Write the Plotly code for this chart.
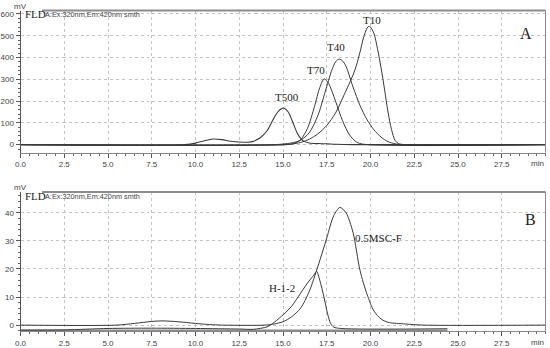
import plotly.graph_objects as go

# ---------------- data ----------------
# Panel A
t_T10 = [0, 15.0, 15.5, 16.0, 16.5, 17.0, 17.5, 18.0, 18.5, 19.0, 19.2, 19.4, 19.6, 19.8, 19.9, 20.0, 20.2, 20.4, 20.6, 20.8, 21.0, 21.2, 21.4, 21.6, 22.0, 30]
v_T10 = [0, 0, 3, 10, 25, 50, 88, 145, 230, 320, 365, 425, 490, 535, 543, 540, 510, 440, 355, 255, 150, 70, 20, 5, 0, 0]

t_T40 = [0, 14.5, 15.0, 15.5, 16.0, 16.5, 17.0, 17.4, 17.8, 18.0, 18.2, 18.4, 18.6, 19.0, 19.4, 19.8, 20.2, 20.6, 21.0, 21.4, 21.8, 30]
v_T40 = [0, 0, 3, 8, 20, 55, 135, 240, 345, 380, 393, 385, 360, 265, 180, 115, 68, 35, 14, 4, 0, 0]

t_T70 = [0, 15.2, 15.6, 16.0, 16.4, 16.8, 17.1, 17.35, 17.6, 18.0, 18.4, 18.8, 19.2, 19.6, 30]
v_T70 = [0, 0, 5, 22, 75, 175, 262, 302, 282, 200, 110, 45, 12, 2, 0]

t_T500 = [0, 9.4, 10.0, 10.5, 11.0, 11.5, 12.0, 12.5, 13.0, 13.3, 13.7, 14.1, 14.4, 14.7, 14.9, 15.05, 15.3, 15.55, 15.8, 16.0, 16.2, 16.5, 17.0, 17.5, 18.0, 19.0, 30]
v_T500 = [0, 0, 7, 18, 26, 23, 16, 12, 11, 15, 32, 65, 110, 150, 165, 168, 150, 105, 55, 30, 15, 8, 5, 4, 2, 0, 0]

# Panel B
t_MSC = [0, 5.5, 6.5, 7.5, 8.1, 9.0, 10.0, 10.8, 11.5, 14.0, 14.5, 15.0, 15.5, 16.0, 16.5, 17.0, 17.5, 17.9, 18.25, 18.6, 19.0, 19.4, 19.8, 20.2, 20.6, 21.0, 22.0, 23.0, 30]
v_MSC = [0, 0, 0.6, 1.3, 1.5, 1.2, 0.6, 0.2, 0, 0, 0.4, 1.2, 3, 6, 12, 21, 31, 39, 41.9, 40, 33, 19.5, 11, 5, 2.2, 1, 0.4, 0, 0]

t_H12 = [0, 2.5, 5.0, 7.5, 10.0, 12.5, 13.3, 14.1, 14.5, 15.05, 15.5, 16.0, 16.4, 16.76, 16.92, 17.1, 17.34, 17.55, 17.72, 17.9, 18.3, 24.4]
v_H12 = [-1.8, -1.7, -1.2, -1.1, -1.2, -1.4, -1.5, -0.6, 1.0, 3.9, 6.8, 11.3, 15, 17.8, 19.2, 16, 10, 4, 0.6, -0.7, -1.2, -1.3]

t_baseB = [0, 24.4]
v_baseB = [-1.9, -1.9]

x_ticks = [0, 2.5, 5, 7.5, 10, 12.5, 15, 17.5, 20, 22.5, 25, 27.5]
x_ticktext = ["0.0", "2.5", "5.0", "7.5", "10.0", "12.5", "15.0", "17.5", "20.0", "22.5", "25.0", "27.5"]
yA_ticks = [0, 100, 200, 300, 400, 500, 600]
yB_ticks = [0, 10, 20, 30, 40]

# ---------------- figure ----------------
W, H = 550, 348
def px(x):
    return x / W
def py(y):
    return 1 - y / H

LINE = "#3a3a3a"
fig = go.Figure()

def add(t, v, xa, ya, color=LINE, width=1.0):
    fig.add_trace(go.Scatter(x=t, y=v, xaxis=xa, yaxis=ya, mode="lines",
                             line=dict(color=color, width=width, shape="spline", smoothing=0.8),
                             showlegend=False, hoverinfo="skip"))

add(t_T500, v_T500, "x", "y", width=1.1)
add(t_T70, v_T70, "x", "y")
add(t_T40, v_T40, "x", "y")
add(t_T10, v_T10, "x", "y")

add(t_baseB, v_baseB, "x2", "y2", color="#8a8a8a", width=2)
add(t_H12, v_H12, "x2", "y2")
add(t_MSC, v_MSC, "x2", "y2")

xdom = [px(20.5), px(545.5)]
tickfont = dict(family="Liberation Sans, Arial", size=8, color="#444")
common_x = dict(range=[0, 30], tickvals=x_ticks, ticktext=x_ticktext, showgrid=True,
                gridcolor="#c4c4c4", griddash="dot", gridwidth=1, automargin=False,
                showline=True, linecolor="#888", linewidth=1, ticks="outside",
                ticklen=4, tickcolor="#555", tickfont=tickfont, zeroline=False,
                minor=dict(dtick=0.5, ticks="outside", ticklen=2, tickcolor="#666", showgrid=False),
                fixedrange=True)
common_y = dict(showgrid=True, gridcolor="#c4c4c4", griddash="dot", gridwidth=1, automargin=False,
                showline=True, linecolor="#555", linewidth=1, ticks="outside",
                ticklen=4, tickcolor="#555", tickfont=tickfont, zeroline=False, fixedrange=True)

fig.update_layout(
    width=W, height=H, autosize=False,
    margin=dict(l=0, r=0, t=0, b=0, pad=0),
    paper_bgcolor="white", plot_bgcolor="white",
    xaxis=dict(domain=xdom, anchor="y", **common_x),
    yaxis=dict(domain=[py(152.5), py(10.5)], anchor="x", range=[-36, 616], tickvals=yA_ticks,
               minor=dict(dtick=20, ticks="outside", ticklen=2, tickcolor="#666", showgrid=False),
               **common_y),
    xaxis2=dict(domain=xdom, anchor="y2", **common_x),
    yaxis2=dict(domain=[py(331), py(192)], anchor="x2", range=[-2.1, 47.4], tickvals=yB_ticks,
                minor=dict(dtick=2, ticks="outside", ticklen=2, tickcolor="#666", showgrid=False),
                **common_y),
)

shapes = []
for ytop, ybot in [(10.5, 152.5), (192, 331)]:
    shapes.append(dict(type="line", xref="paper", yref="paper", x0=px(42), x1=px(545.5),
                       y0=py(ytop), y1=py(ytop), line=dict(color="#8c8c8c", width=2)))
    shapes.append(dict(type="line", xref="paper", yref="paper", x0=px(545.5), x1=px(545.5),
                       y0=py(ytop), y1=py(ybot), line=dict(color="#8c8c8c", width=1)))
fig.update_layout(shapes=shapes)

serif = "Liberation Serif, Times New Roman, serif"
sans = "Liberation Sans, Arial, sans-serif"
ann = []
def a(text, x, y, xref, yref, size, family, color="#222", xanchor="center", yanchor="middle"):
    ann.append(dict(text=text, x=x, y=y, xref=xref, yref=yref, showarrow=False,
                    font=dict(size=size, family=family, color=color),
                    xanchor=xanchor, yanchor=yanchor))

# peak labels
a("T10", 20.1, 571, "x", "y", 11, serif)
a("T40", 18.0, 447, "x", "y", 11, serif)
a("T70", 16.86, 344, "x", "y", 11, serif)
a("T500", 15.2, 220, "x", "y", 11, serif)
a("A", 28.9, 510, "x", "y", 16, serif)
a("0.5MSC-F", 20.45, 30.9, "x2", "y2", 11, serif)
a("H-1-2", 14.97, 13.1, "x2", "y2", 11, serif)
a("B", 29.16, 37.6, "x2", "y2", 16, serif)

# headers
for ytop in [10.5, 192]:
    a("mV", px(20.5), py(ytop - 4.5), "paper", "paper", 8, sans, color="#444")
    a("FLD", px(22.5), py(ytop + 4), "paper", "paper", 11, serif, xanchor="left")
    a("A:Ex:320nm,Em:420nm smth", px(42.5), py(ytop + 4), "paper", "paper", 7.3, sans,
      color="#444", xanchor="left")

# "min" unit labels
a("min", px(537.5), py(163.5), "paper", "paper", 8, sans, color="#444")
a("min", px(537.5), py(342), "paper", "paper", 8, sans, color="#444")

fig.update_layout(annotations=ann)
fig.write_html("out.html", config={"displayModeBar": False},
               post_script="document.body.style.margin='0';document.body.style.padding='0';")
